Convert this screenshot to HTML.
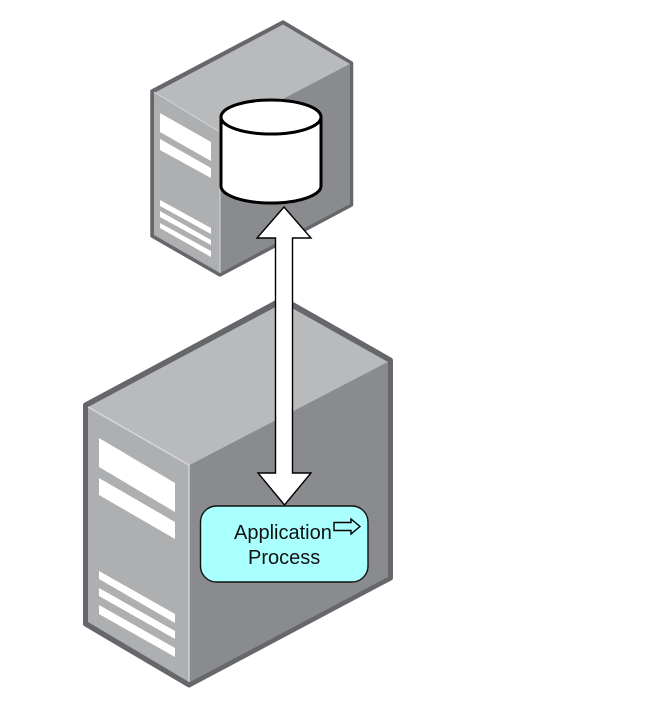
<!DOCTYPE html>
<html><head><meta charset="utf-8"><style>html,body{margin:0;padding:0;background:#fff;width:656px;height:708px;overflow:hidden}svg{display:block;filter:blur(.35px)}text{font-family:"Liberation Sans",sans-serif;font-size:20px;fill:#111}</style></head>
<body><svg width="656" height="708" viewBox="0 0 656 708" xmlns="http://www.w3.org/2000/svg">
<!-- small server -->
<polygon points="283,22 351.500,63 351.500,205 220,275 152,236 152,91" fill="#66676b" stroke="#66676b" stroke-width="3.500" stroke-linejoin="round"/>
<polygon points="283,24.500 350,64 220,132 154,93" fill="#b9babc"/>
<polygon points="154,93 220,132 220,273 154,235" fill="#aeafb1"/>
<polygon points="220,132 350,64 350,204 220,273" fill="#8a8b8e"/>
<polyline points="154,92 220,132 220,273" fill="none" stroke="#d6d7d8" stroke-width="1"/>
<g fill="#fff">
<polygon points="160,113 211,142 211,161 160,132"/>
<polygon points="160,139 211,168 211,178 160,150"/>
<polygon points="160,200 211,228 211,234 160,206"/>
<polygon points="160,211 211,240 211,245 160,217"/>
<polygon points="160,223 211,251 211,257 160,228"/>
</g>
<!-- big server -->
<polygon points="283,299 390.500,360 390.500,578 189,685 85.500,624 85.500,405" fill="#66676b" stroke="#66676b" stroke-width="5" stroke-linejoin="round"/>
<polygon points="283,303 388,362 190,465 88,407" fill="#b9babc"/>
<polygon points="88,407 189,465 189,682 88,622" fill="#aeafb1"/>
<polygon points="190,465 388,362 388,577 190,682" fill="#8a8b8e"/>
<polyline points="88,407 189,465 189,682" fill="none" stroke="#d6d7d8" stroke-width="1.500"/>
<g fill="#fff">
<polygon points="99,438 175,483 175,512 99,467"/>
<polygon points="99,478 175,522 175,539 99,495"/>
<polygon points="99,571 175,614 175,623 99,579"/>
<polygon points="99,588 175,631 175,639 99,596"/>
<polygon points="99,605 175,648 175,657 99,614"/>
</g>
<!-- cylinder -->
<path d="M221,117 V186 A50,17 0 0 0 321,186 V117 Z" fill="#fff" stroke="#000" stroke-width="3"/>
<ellipse cx="271" cy="117" rx="50" ry="17" fill="#fff" stroke="#000" stroke-width="3"/>
<!-- double arrow -->
<polygon points="284,207 311,238 292.500,238 292.500,473 311,473 284.500,505 258,473 275.500,473 275.500,238 257,238" fill="#fff" stroke="#000" stroke-width="1.400" stroke-linejoin="miter"/>
<!-- process box -->
<rect x="200.500" y="506" width="167.500" height="76" rx="16" ry="16" fill="#aaffff" stroke="#111" stroke-width="1.400"/>
<text x="234" y="539">Application</text>
<text x="248" y="564">Process</text>
<polygon points="334,522.500 351,522.500 351,519 360,526.500 351,534 351,530.500 334,530.500" fill="#aaffff" stroke="#000" stroke-width="1.400"/>
</svg></body></html>
